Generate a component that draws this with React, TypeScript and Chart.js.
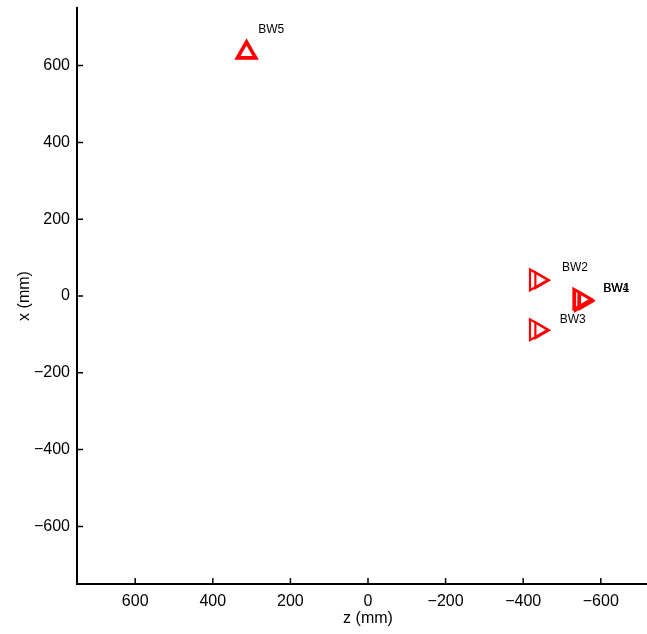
import React, { useEffect, useRef } from "react";
import { Chart, registerables } from "chart.js";

Chart.register(...registerables);

// Beam wire stations (z, x in mm) and the direction each marker faces
const wireNames = ["BW1", "BW2", "BW3", "BW4", "BW5"];
const wireZ = [-545, -433, -433, -549, 313];
const wireX = [-8, 42, -88, -12, 634];
const wireFacing = [90, 90, 90, 90, 0];
// Rear face of each prism-shaped marker (slightly further downstream)
const rearZ = [-554, -443, -443, -558, 313];
const rearX = [-9, 41, -89, -13, 634];
// Label anchor points (z, x in mm)
const labelZ = [-607, -500, -494, -606, 283];
const labelX = [19, 75, -62, 18, 693];

const axisMin = -750;
const axisMax = 750;
const tickStep = 200;

const FONT = '"Liberation Sans", Arial, Helvetica, sans-serif';
const RED = "#ff0000";

const inwardTicks = {
  id: "inwardTicks",
  afterDraw(chart: any) {
    const { ctx, scales } = chart;
    const xs = scales.x;
    const ys = scales.y;
    ctx.save();
    ctx.strokeStyle = "#000";
    ctx.lineWidth = 1.5;
    ctx.beginPath();
    xs.ticks.forEach((t: any) => {
      const px = xs.getPixelForValue(t.value);
      ctx.moveTo(px, ys.bottom);
      ctx.lineTo(px, ys.bottom - 6);
    });
    ys.ticks.forEach((t: any) => {
      const py = ys.getPixelForValue(t.value);
      ctx.moveTo(xs.left, py);
      ctx.lineTo(xs.left + 6, py);
    });
    ctx.stroke();
    ctx.restore();
  },
};

const wireLabels = {
  id: "wireLabels",
  afterDatasetsDraw(chart: any) {
    const { ctx, scales } = chart;
    ctx.save();
    ctx.fillStyle = "#000";
    ctx.font = `12px ${FONT}`;
    ctx.textAlign = "left";
    ctx.textBaseline = "middle";
    wireNames.forEach((name, i) => {
      const px = scales.x.getPixelForValue(labelZ[i]);
      const py = scales.y.getPixelForValue(labelX[i]);
      ctx.fillText(name, px, py);
    });
    ctx.restore();
  },
};

const filterTicks = (scale: any) => {
  scale.ticks = scale.ticks.filter((t: any) => t.value % tickStep === 0);
};

export default function App() {
  const canvasRef = useRef<HTMLCanvasElement | null>(null);

  useEffect(() => {
    if (!canvasRef.current) return;
    const front = wireNames.map((_, i) => ({ x: wireZ[i], y: wireX[i] }));
    const rear = wireNames.map((_, i) => ({ x: rearZ[i], y: rearX[i] }));
    const common = {
      pointStyle: "triangle",
      pointBackgroundColor: "rgba(0,0,0,0)",
      pointBorderColor: RED,
      pointBorderWidth: 2.2,
      pointRotation: wireFacing,
      showLine: false,
      clip: false,
    };
    const chart = new Chart(canvasRef.current, {
      type: "scatter",
      data: {
        datasets: [
          { ...common, label: "rear", data: rear, pointRadius: 9 },
          { ...common, label: "front", data: front, pointRadius: 12 },
        ],
      } as any,
      options: {
        animation: false,
        responsive: false,
        layout: {
          autoPadding: false,
          padding: { top: 8, right: 0, left: 0, bottom: 0 },
        },
        plugins: {
          legend: { display: false },
          tooltip: { enabled: false },
        },
        scales: {
          x: {
            type: "linear",
            reverse: true,
            min: axisMin,
            max: axisMax,
            afterBuildTicks: filterTicks,
            afterFit: (s: any) => {
              s.height = 50;
              s.paddingLeft = 0;
              s.paddingRight = 0;
            },
            ticks: {
              stepSize: tickStep,
              padding: 8,
              color: "#000",
              font: { family: FONT, size: 16 },
              maxRotation: 0,
              callback: (v: any) => String(v).replace("-", "\u2212"),
            },
            grid: { display: true, drawOnChartArea: false, drawTicks: false },
            border: { display: true, color: "#000", width: 2 },
            title: {
              display: true,
              text: "z (mm)",
              color: "#000",
              font: { family: FONT, size: 16 },
              padding: 6,
            },
          },
          y: {
            type: "linear",
            min: axisMin,
            max: axisMax,
            afterBuildTicks: filterTicks,
            afterFit: (s: any) => {
              s.width = 77;
              s.paddingTop = 0;
              s.paddingBottom = 0;
            },
            ticks: {
              stepSize: tickStep,
              padding: 7,
              color: "#000",
              font: { family: FONT, size: 16 },
              callback: (v: any) => String(v).replace("-", "\u2212"),
            },
            grid: { display: true, drawOnChartArea: false, drawTicks: false },
            border: { display: true, color: "#000", width: 2 },
            title: {
              display: true,
              text: "x (mm)",
              color: "#000",
              font: { family: FONT, size: 16 },
              padding: 15,
            },
          },
        },
      } as any,
      plugins: [inwardTicks, wireLabels],
    });
    return () => chart.destroy();
  }, []);

  return (
    <div
      style={{
        position: "fixed",
        left: 0,
        top: 0,
        width: 647,
        height: 634,
        overflow: "hidden",
        background: "#fff",
      }}
    >
      <canvas
        ref={canvasRef}
        width={659}
        height={634}
        style={{ display: "block", width: 659, height: 634 }}
      />
    </div>
  );
}
